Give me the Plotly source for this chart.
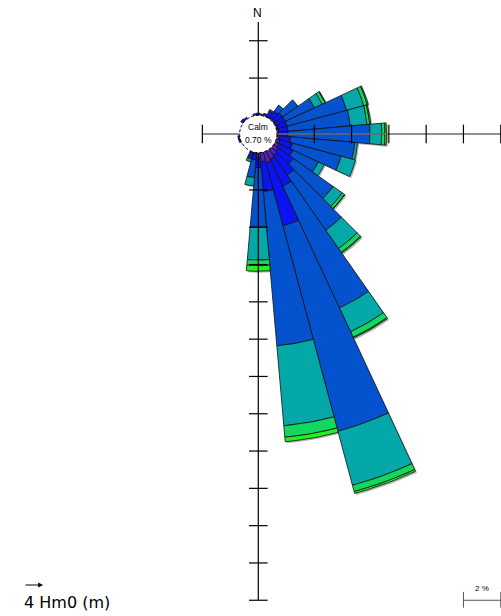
import numpy as np
import plotly.graph_objects as go

# ---------------- data ----------------
directions = list(range(0, 360, 10))  # bin centres, degrees clockwise from N
class_labels = ["0-0.5", "0.5-1", "1-1.5", "1.5-2", "2-2.5", ">=2.5"]
class_colors = ["#5222B6", "#0A14F2", "#0552CF", "#05A8A8", "#10D860", "#22F022"]

# frequency (%) per direction for each Hm0 class
#        0     10    20    30    40    50    60    70    80    90    100   110   120   130   140   150   160   170
f_c1 = [0,    0,    0,    0.05, 0.1,  0.1,  0.1,  0.1,  0.1,  0.1,  0.15, 0.2,  0.25, 0.3,  0.4,  0.5,  0.6,  0.5,
        0.3,  0.1,  0.05, 0,    0,    0,    0,    0,    0,    0,    0,    0,    0,    0,    0,    0,    0,    0]
f_c2 = [0.12, 0.08, 0.15, 0.3,  0.4,  0.5,  0.5,  0.5,  0.5,  0.5,  0.6,  0.7,  0.8,  1.0,  1.3,  1.6,  3.5,  1.6,
        0.5,  0.3,  0.25, 0,    0,    0,    0,    0.1,  0.1,  0,    0,    0,    0,    0.15, 0.1,  0,    0,    0.1]
f_c3 = [0,    0,    0,    0.1,  0.4,  1.0,  1.72, 3.3,  3.35, 4.39, 3.45, 2.7,  1.5,  2.6,  3.6,  7.2,  11.4, 8.3,
        3.2,  0.95, 0.1,  0,    0,    0,    0,    0,    0,    0,    0,    0,    0,    0,    0,    0,    0,    0]
f_c4 = [0,    0,    0,    0,    0,    0,    0.46, 0.95, 0.9,  0.63, 0.15, 0.8,  0.35, 0.6,  1.2,  1.4,  3.0,  4.3,
        1.76, 0.45, 0.15, 0,    0,    0,    0,    0,    0,    0,    0,    0,    0,    0,    0,    0,    0,    0]
f_c5 = [0,    0,    0,    0,    0,    0,    0.17, 0.2,  0.15, 0.18, 0,    0,    0,    0.15, 0.25, 0.33, 0.35, 0.62,
        0.3,  0,    0,    0,    0,    0,    0,    0,    0,    0,    0,    0,    0,    0,    0,    0,    0,    0]
f_c6 = [0,    0,    0,    0,    0,    0,    0.04, 0.05, 0.05, 0.08, 0,    0,    0,    0.02, 0.05, 0.05, 0.1,  0.24,
        0.3,  0,    0,    0,    0,    0,    0,    0,    0,    0,    0,    0,    0,    0,    0,    0,    0,    0]
class_freqs = [f_c1, f_c2, f_c3, f_c4, f_c5, f_c6]

calm_pct = 0.70
sector_width = 10
tick_step = 2          # % between axis ticks
arm_up, arm_left, arm_right, arm_down = 5.0, 2.0, 12.0, 24.0   # axis arm lengths (%)
scale_bar_pct = 2

# ---------------- figure ----------------
R0 = 1.0  # radius of the calm circle in % units
fig = go.Figure()

def sector(theta_c, r_in, r_out, width, dx=0.0, dy=0.0):
    th = np.radians(np.linspace(theta_c - width / 2, theta_c + width / 2, 12))
    xs = np.concatenate([r_out * np.sin(th), r_in * np.sin(th[::-1])]) + dx
    ys = np.concatenate([r_out * np.cos(th), r_in * np.cos(th[::-1])]) + dy
    return np.append(xs, xs[0]), np.append(ys, ys[0])

# soft drop shadow of each full bar
for i, d in enumerate(directions):
    total = sum(f[i] for f in class_freqs)
    if total <= 0:
        continue
    xs, ys = sector(d, R0, R0 + total, sector_width, dx=0.08, dy=-0.08)
    fig.add_trace(go.Scatter(x=xs, y=ys, mode="lines", fill="toself",
                             fillcolor="#B4B4B4", line=dict(width=0),
                             hoverinfo="skip", showlegend=False))

for i, d in enumerate(directions):
    cum = 0.0
    for k, freqs in enumerate(class_freqs):
        v = freqs[i]
        if v <= 0:
            continue
        xs, ys = sector(d, R0 + cum, R0 + cum + v, sector_width)
        fig.add_trace(go.Scatter(x=xs, y=ys, mode="lines", fill="toself",
                                 fillcolor=class_colors[k],
                                 line=dict(color="#111111", width=0.8),
                                 hoverinfo="skip", showlegend=False))
        cum += v

# axis cross with ticks
H = 0.5
def add_line(x0, y0, x1, y1, color="#000000", w=1.2):
    fig.add_shape(type="line", x0=x0, y0=y0, x1=x1, y1=y1,
                  line=dict(color=color, width=w), layer="above")

add_line(0, R0, 0, R0 + arm_up)
add_line(0, -R0, 0, -(R0 + arm_down))
add_line(R0, 0, R0 + arm_right, 0, color="#6a6a6a", w=1.4)
add_line(-R0, 0, -(R0 + arm_left), 0, color="#6a6a6a", w=1.4)
for t in np.arange(tick_step, arm_up - 0.5, tick_step):
    add_line(-H, R0 + t, H, R0 + t)
for t in np.arange(tick_step, arm_down + 0.01, tick_step):
    add_line(-H, -(R0 + t), H, -(R0 + t))
for t in np.arange(tick_step, arm_right + 0.01, tick_step):
    add_line(R0 + t, -H, R0 + t, H)
for t in np.arange(tick_step, arm_left + 0.01, tick_step):
    add_line(-(R0 + t), -H, -(R0 + t), H)

# calm circle
fig.add_shape(type="circle", x0=-R0, y0=-R0, x1=R0, y1=R0,
              fillcolor="white", line=dict(color="#000000", width=1, dash="3px,2px"),
              layer="above")
fig.add_annotation(x=0, y=0.38, text="Calm", showarrow=False,
                   font=dict(family="Arial, Liberation Sans", size=8.5, color="black"))
fig.add_annotation(x=0, y=-0.3, text="%.2f %%" % calm_pct, showarrow=False,
                   font=dict(family="Arial, Liberation Sans", size=8.5, color="black"))

# N label
fig.add_annotation(x=-0.04, y=6.5, text="N", showarrow=False,
                   font=dict(family="Arial, Liberation Sans", size=12, color="black"))

# scale bar
sb_y = -(R0 + arm_down)
sb_x1 = R0 + arm_right
sb_x0 = sb_x1 - scale_bar_pct
add_line(sb_x0, sb_y, sb_x1, sb_y, color="#555555", w=1)
add_line(sb_x0, sb_y - 0.4, sb_x0, sb_y + 0.45, color="#555555", w=1)
add_line(sb_x1, sb_y - 0.4, sb_x1, sb_y + 0.45, color="#555555", w=1)
fig.add_annotation(x=(sb_x0 + sb_x1) / 2, y=sb_y + 0.3, text="%d %%" % scale_bar_pct,
                   showarrow=False, yanchor="bottom",
                   font=dict(family="Arial, Liberation Sans", size=8, color="black"))

# Hm0 label with arrow
fig.add_annotation(xref="paper", yref="paper", x=22 / 501, y=1 - 602 / 616,
                   xanchor="left", yanchor="middle", text="4 Hm0 (m)", showarrow=False,
                   font=dict(family="DejaVu Sans", size=16, color="black"))
fig.add_annotation(xref="paper", yref="paper", x=43 / 501, y=1 - 585 / 616,
                   ax=-19, ay=0, text="", showarrow=True, arrowhead=2, arrowsize=0.8,
                   arrowwidth=1.2, arrowcolor="black")

PX = 18.65
cx, cy = 258.3, 134.0
fig.update_xaxes(range=[-cx / PX, (501 - cx) / PX], visible=False, fixedrange=True)
fig.update_yaxes(range=[-(616 - cy) / PX, cy / PX], visible=False, fixedrange=True)
fig.update_layout(width=501, height=616, margin=dict(l=0, r=0, t=0, b=0),
                  plot_bgcolor="white", paper_bgcolor="white", showlegend=False)

fig.write_html("out.html", config={"displayModeBar": False},
               post_script="document.body.style.margin='0';document.body.style.overflow='hidden';")
